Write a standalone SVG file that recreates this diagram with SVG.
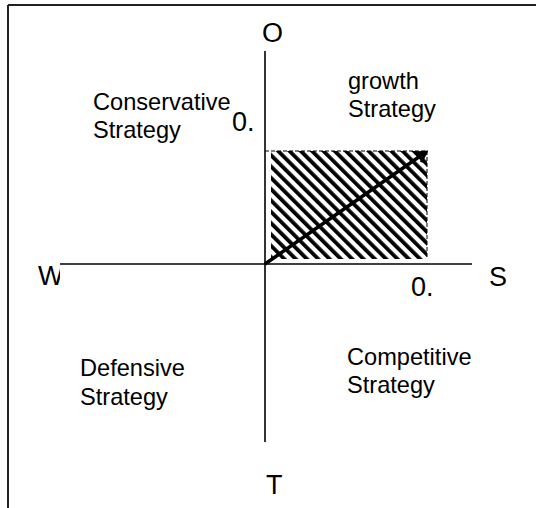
<svg xmlns="http://www.w3.org/2000/svg" width="536" height="508" viewBox="0 0 536 508">
  <style>
    .t { font-family: "Liberation Sans", Arial, sans-serif; fill: #000; }
    .lab { font-size: 23.6px; }
    .big { font-size: 27px; }
    .ax { stroke: #000; stroke-width: 1.6; fill: none; }
  </style>
  <defs>
    <pattern id="hatch" patternUnits="userSpaceOnUse" width="8" height="8" patternTransform="rotate(-45)">
      <rect width="8" height="8" fill="#fff"/>
      <rect x="0" y="0" width="3.8" height="8" fill="#000"/>
    </pattern>
    <marker id="arr" viewBox="0 0 10 10" refX="8" refY="5" markerWidth="4" markerHeight="4" orient="auto" markerUnits="strokeWidth">
      <path d="M1,1 L8,5 L1,9" fill="none" stroke="#000" stroke-width="2"/>
    </marker>
    <clipPath id="wclip"><rect x="0" y="250" width="60" height="50"/></clipPath>
  </defs>
  <rect width="536" height="508" fill="#fff"/>
  <g id="frame">
    <line x1="8" y1="5" x2="536" y2="5" stroke="#222" stroke-width="2"/>
    <line x1="8" y1="5" x2="8" y2="508" stroke="#222" stroke-width="2"/>
  </g>
  <g id="region">
    <rect x="271" y="151" width="156" height="108" fill="url(#hatch)"/>
    <line x1="265" y1="151" x2="427" y2="151" stroke="#000" stroke-width="1.2" stroke-dasharray="4,2"/>
    <line x1="427" y1="151" x2="427" y2="259" stroke="#000" stroke-width="1" stroke-dasharray="4,2"/>
  </g>
  <g id="connectors">
    <line class="ax" x1="265" y1="51" x2="265" y2="442"/>
    <line class="ax" x1="60" y1="264" x2="472" y2="264"/>
    <line x1="265" y1="264" x2="426" y2="152" stroke="#000" stroke-width="3.5" marker-end="url(#arr)"/>
  </g>
  <g id="axis-O"><text class="t big" x="262" y="42">O</text></g>
  <g id="axis-S"><text class="t big" x="489" y="286">S</text></g>
  <g id="axis-T"><text class="t big" x="266" y="494">T</text></g>
  <g id="axis-W"><text class="t big" x="38" y="285" clip-path="url(#wclip)">W</text></g>
  <g id="tick-O"><text class="t big" x="232" y="131">0.</text></g>
  <g id="tick-S"><text class="t big" x="411" y="296">0.</text></g>
  <g id="conservative"><text class="t lab" x="93" y="110">Conservative</text><text class="t lab" x="93" y="138">Strategy</text></g>
  <g id="growth"><text class="t lab" x="348" y="89">growth</text><text class="t lab" x="348" y="117">Strategy</text></g>
  <g id="defensive"><text class="t lab" x="80" y="376">Defensive</text><text class="t lab" x="80" y="405">Strategy</text></g>
  <g id="competitive"><text class="t lab" x="347" y="365">Competitive</text><text class="t lab" x="347" y="393">Strategy</text></g>
</svg>
